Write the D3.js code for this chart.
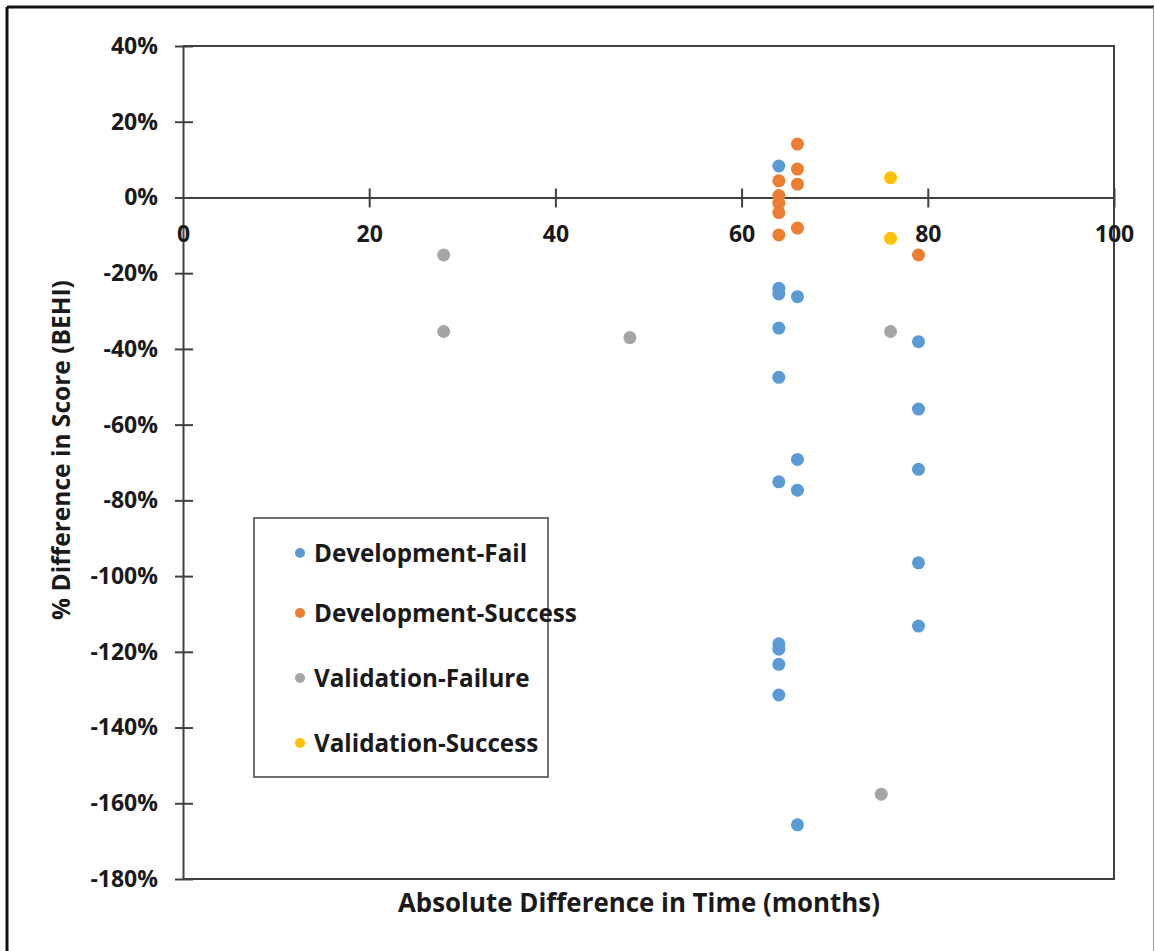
<!DOCTYPE html>
<html>
<head>
<meta charset="utf-8">
<script src="https://cdn.jsdelivr.net/npm/d3@7"></script>
<style>
  html, body { margin: 0; padding: 0; background: #fff; }
  svg { display: block; }
  text { font-family: "Open Sans", Lato, sans-serif; font-weight: 700; fill: #1a1a1a; }
</style>
</head>
<body>
<svg id="chart" width="1155" height="951"></svg>
<script>
// Series: absolute difference in time (months) vs % difference in BEHI score
const devFailX = [64, 64, 64, 66, 64, 79, 64, 79, 66, 79, 64, 66, 79, 79, 64, 64, 64, 64, 66];
const devFailY = [8.3, -24.0, -25.5, -26.2, -34.5, -38.1, -47.5, -55.9, -69.2, -71.8, -75.1, -77.3, -96.5, -113.2, -117.9, -119.3, -123.3, -131.4, -165.7];

const devSuccessX = [66, 66, 64, 66, 64, 64, 64, 66, 64, 79];
const devSuccessY = [14.1, 7.5, 4.4, 3.5, 0.5, -1.5, -4.0, -8.1, -9.9, -15.2];

const valFailX = [28, 28, 48, 76, 75];
const valFailY = [-15.2, -35.4, -37.0, -35.4, -157.6];

const valSuccessX = [76, 76];
const valSuccessY = [5.2, -10.8];

const seriesNames = ["Development-Fail", "Development-Success", "Validation-Failure", "Validation-Success"];
const seriesColors = ["#5B9BD5", "#ED7D31", "#A5A5A5", "#FFC000"];

const xTicks = [0, 20, 40, 60, 80, 100];
const yTicks = [40, 20, 0, -20, -40, -60, -80, -100, -120, -140, -160, -180];

const xTitle = "Absolute Difference in Time (months)";
const yTitle = "% Difference in Score (BEHI)";

const series = [
  { name: seriesNames[0], color: seriesColors[0], xs: devFailX, ys: devFailY },
  { name: seriesNames[1], color: seriesColors[1], xs: devSuccessX, ys: devSuccessY },
  { name: seriesNames[2], color: seriesColors[2], xs: valFailX, ys: valFailY },
  { name: seriesNames[3], color: seriesColors[3], xs: valSuccessX, ys: valSuccessY }
];

const svg = d3.select("#chart");
const W = 1155, H = 951;
const plot = { left: 183, right: 1114, top: 46, bottom: 879 };
const axisColor = "#404040";

// Scale a text's font size so it spans the given width
function fitWidth(sel, width) {
  const node = sel.node();
  const fs = parseFloat(sel.attr("font-size"));
  const w = node.getComputedTextLength();
  sel.attr("font-size", (fs * width / w).toFixed(2));
}

// Outer chart frame
svg.append("line").attr("x1", 7).attr("y1", 7).attr("x2", W - 1).attr("y2", 7)
  .attr("stroke", "#111").attr("stroke-width", 3);
svg.append("line").attr("x1", 7).attr("y1", 7).attr("x2", 7).attr("y2", H)
  .attr("stroke", "#111").attr("stroke-width", 3);
svg.append("line").attr("x1", W - 1.5).attr("y1", 7).attr("x2", W - 1.5).attr("y2", H)
  .attr("stroke", "#9a9a9a").attr("stroke-width", 1);

const x = d3.scaleLinear().domain([0, 100]).range([plot.left, plot.right]);
const y = d3.scaleLinear().domain([-180, 40]).range([plot.bottom, plot.top]);

// Plot area border (top, right, bottom)
svg.append("path")
  .attr("d", `M${plot.left},${plot.top}H${plot.right}V${plot.bottom}H${plot.left}`)
  .attr("fill", "none").attr("stroke", axisColor).attr("stroke-width", 2);

// Y axis with crossing ticks
const yAxis = svg.append("g").attr("transform", `translate(${plot.left},0)`)
  .call(d3.axisLeft(y).tickValues(yTicks).tickSize(0).tickFormat(d => d + "%").tickPadding(25));
yAxis.select(".domain").attr("stroke", axisColor).attr("stroke-width", 2);
yAxis.selectAll(".tick text").attr("font-size", 23).attr("fill", "#1a1a1a")
  .attr("font-family", "Lato, sans-serif").attr("font-weight", 700);
yAxis.selectAll(".tick").append("line")
  .attr("x1", -8).attr("x2", 10).attr("stroke", axisColor).attr("stroke-width", 2);

// X axis drawn along y = 0 with crossing ticks, labels below
const y0 = y(0);
const xAxis = svg.append("g").attr("transform", `translate(0,${y0})`)
  .call(d3.axisBottom(x).tickValues(xTicks).tickSize(0).tickPadding(28));
xAxis.select(".domain").attr("stroke", axisColor).attr("stroke-width", 2);
xAxis.selectAll(".tick text").attr("font-size", 23).attr("fill", "#1a1a1a")
  .attr("font-family", "Lato, sans-serif").attr("font-weight", 700);
xAxis.selectAll(".tick").filter(d => d !== 0).append("line")
  .attr("y1", -9).attr("y2", 10).attr("stroke", axisColor).attr("stroke-width", 2);

// Points
series.forEach(s => {
  svg.append("g").selectAll("circle")
    .data(s.xs.map((xv, i) => [xv, s.ys[i]]))
    .join("circle")
    .attr("cx", d => x(d[0]))
    .attr("cy", d => y(d[1]))
    .attr("r", 6.5)
    .attr("fill", s.color);
});

// Axis titles
const xt = svg.append("text")
  .attr("x", 639).attr("y", 912)
  .attr("text-anchor", "middle").attr("font-size", 24)
  .text(xTitle);
fitWidth(xt, 482);
const yt = svg.append("text")
  .attr("transform", "translate(70,450) rotate(-90)")
  .attr("text-anchor", "middle").attr("font-size", 24)
  .text(yTitle);
fitWidth(yt, 340);

// Legend
const legend = svg.append("g");
legend.append("rect")
  .attr("x", 254).attr("y", 518).attr("width", 294).attr("height", 259)
  .attr("fill", "#fff").attr("stroke", axisColor).attr("stroke-width", 1.5);
const legendRowY = [553, 613, 678, 743];
const legendTexts = series.map((s, i) => {
  legend.append("circle").attr("cx", 300).attr("cy", legendRowY[i]).attr("r", 5).attr("fill", s.color);
  return legend.append("text").attr("x", 314).attr("y", legendRowY[i]).attr("dy", "0.36em")
    .attr("font-size", 22).text(s.name);
});
// Size all legend labels from the longest one
fitWidth(legendTexts[1], 263);
const legendFs = legendTexts[1].attr("font-size");
legendTexts.forEach(t => t.attr("font-size", legendFs));
</script>
</body>
</html>
